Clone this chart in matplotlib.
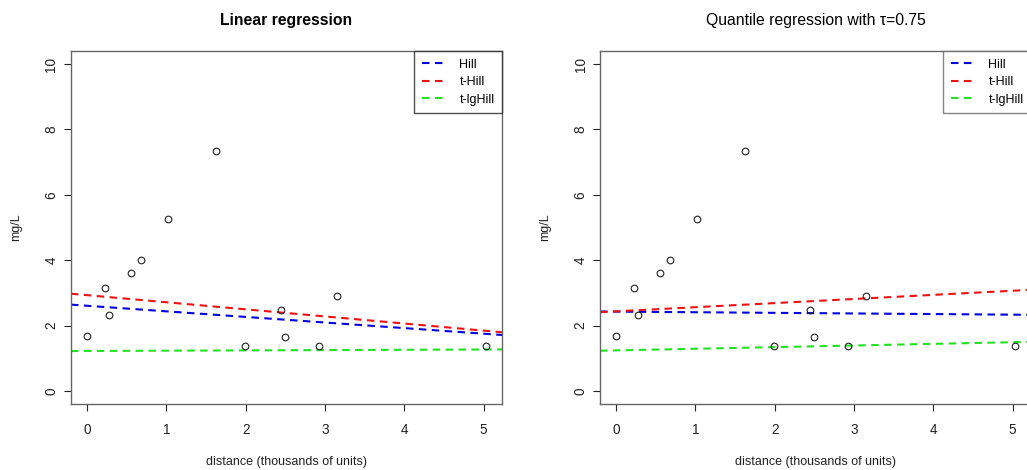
import matplotlib.pyplot as plt
import numpy as np

plt.rcParams['font.family'] = ['Liberation Sans', 'DejaVu Sans']

# observations (distance in thousands of units, concentration in mg/L)
distance = [0.0, 0.23, 0.28, 0.55, 0.68, 1.02, 1.63, 1.99, 2.44, 2.49, 2.92, 3.15, 5.03]
conc = [1.69, 3.16, 2.32, 3.62, 4.00, 5.25, 7.34, 1.38, 2.48, 1.64, 1.36, 2.91, 1.36]

models = ['Hill', 't-Hill', 't-lgHill']
colors = ['#0000e0', '#ee1111', '#22e022']

# fitted lines: intercept and slope per model
lm_intercept = [2.606, 2.93, 1.222]
lm_slope = [-0.171, -0.217, 0.0092]
qr_intercept = [2.426, 2.435, 1.24]
qr_slope = [-0.0186, 0.126, 0.050]

titles = ['Linear regression', 'Quantile regression with \u03c4=0.75']

W, H = 1027, 470
fig = plt.figure(figsize=(W / 100, H / 100), dpi=100)
ax1 = fig.add_axes([71 / W, (H - 404) / H, 431 / W, 353 / H])
ax2 = fig.add_axes([600 / W, (H - 404) / H, 431 / W, 353 / H])

xlim = (-0.2012, 5.2312)
xs = np.array(xlim)

for i, ax in enumerate([ax1, ax2]):
    icpt = lm_intercept if i == 0 else qr_intercept
    slp = lm_slope if i == 0 else qr_slope
    ax.plot(distance, conc, 'o', mfc='none', mec='#222222', ms=4.8, mew=0.8,
            zorder=3)
    for name, c, a, b in zip(models, colors, icpt, slp):
        ax.plot(xs, a + b * xs, color=c, lw=1.5, dashes=(3.6, 2.6), label=name)

    ax.set_xlim(*xlim)
    ax.set_ylim(-0.4, 10.4)
    ax.set_xticks(range(6))
    ax.set_yticks(range(0, 11, 2))
    ax.tick_params(axis='x', length=5, width=0.8, pad=9, labelsize=9.8,
                   colors='#222222')
    ax.tick_params(axis='y', length=5, width=0.8, pad=4, labelsize=9.8,
                   colors='#222222', labelrotation=90)
    for lab in ax.get_yticklabels():
        lab.set_verticalalignment('center')
    for sp in ax.spines.values():
        sp.set_color('#666666')
        sp.set_linewidth(1.0)

    ax.set_xlabel('distance (thousands of units)', fontsize=9, labelpad=13,
                  color='#222222')
    ax.set_ylabel('mg/L', fontsize=9, labelpad=16, color='#222222')
    ax.set_title(titles[i], fontsize=11.3, pad=19,
                 fontweight='bold' if i == 0 else 'normal')

    leg = ax.legend(loc='upper right', borderaxespad=0, fancybox=False,
                    fontsize=9, handlelength=1.7, handletextpad=1.3,
                    labelspacing=0.45, borderpad=0.6)
    leg.get_frame().set_edgecolor('#222222' if i == 0 else '#666666')
    leg.get_frame().set_linewidth(1.0)

fig.savefig('out.png', dpi=100)
